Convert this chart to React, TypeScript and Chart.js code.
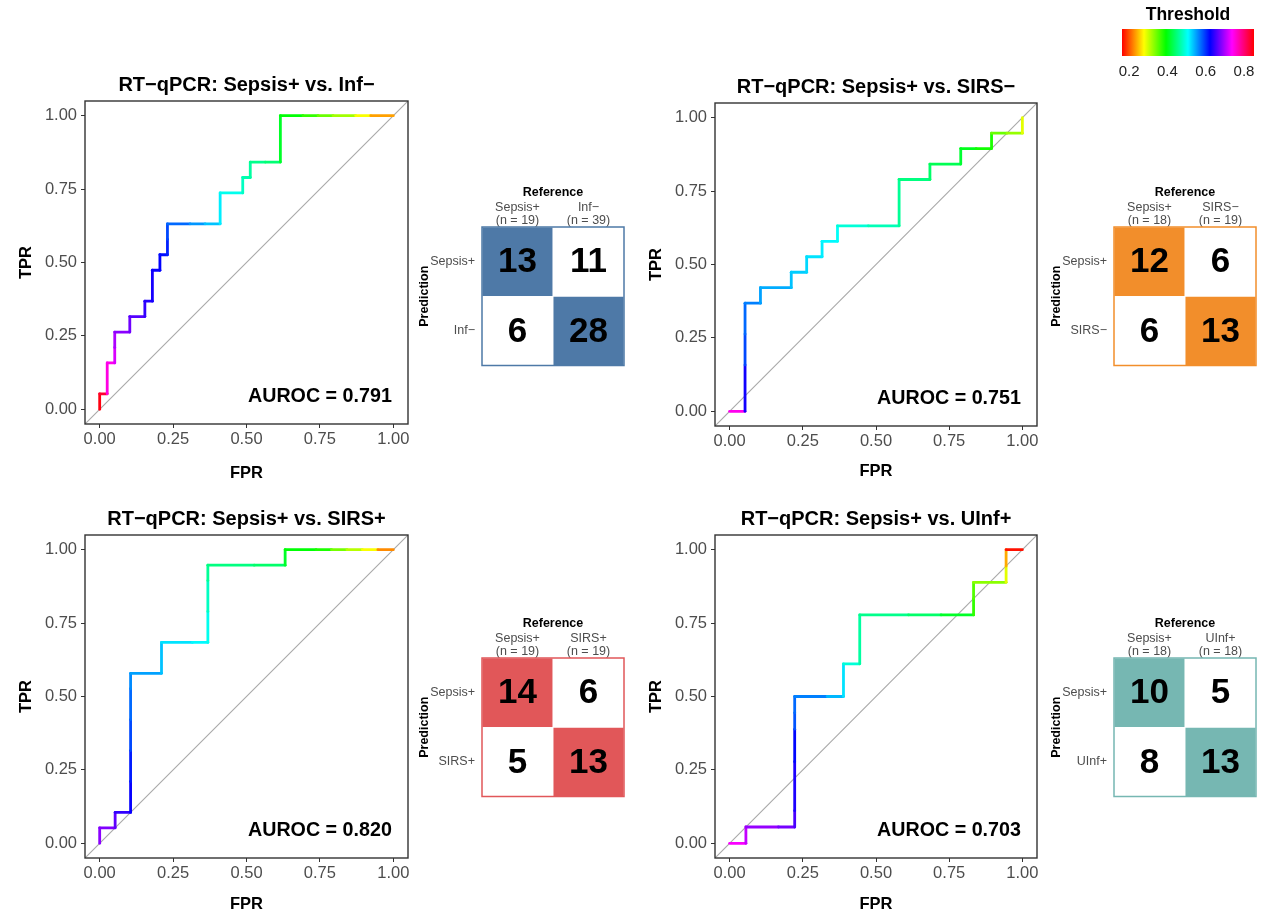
import React, { useEffect, useRef } from "react";
import { Chart, registerables } from "chart.js";

Chart.register(...registerables);

const FONT = "'Liberation Sans', Arial, Helvetica, sans-serif";
Chart.defaults.font.family = FONT;

// ---------- shared scales ----------
const T_MIN = 0.163;
const T_MAX = 0.852;
const LEGEND_TICKS = [0.2, 0.4, 0.6, 0.8];
const AXIS_TICKS = [0, 0.25, 0.5, 0.75, 1];

// ---------- Panel 1: Sepsis+ vs. Inf- ----------
const p1Title = "RT−qPCR: Sepsis+ vs. Inf−";
const p1Auroc = "0.791";
const p1NegN = 39;
const p1PosN = 19;
const p1FP = [0, 0, 1, 1, 2, 2, 2, 4, 4, 6, 6, 7, 7, 8, 8, 9, 9, 9, 12, 14, 16, 16, 19, 19, 20, 20, 22, 24, 24, 27, 29, 31, 34, 36, 39];
const p1TP = [0, 1, 1, 3, 3, 4, 5, 5, 6, 6, 7, 7, 9, 9, 10, 10, 11, 12, 12, 12, 12, 14, 14, 15, 15, 16, 16, 16, 19, 19, 19, 19, 19, 19, 19];
const p1Thr = [0.845, 0.83, 0.75, 0.745, 0.72, 0.7, 0.685, 0.672, 0.66, 0.645, 0.638, 0.632, 0.627, 0.622, 0.617, 0.608, 0.59, 0.575, 0.555, 0.535, 0.515, 0.5, 0.48, 0.472, 0.465, 0.455, 0.445, 0.41, 0.395, 0.37, 0.345, 0.32, 0.28, 0.235, 0.2];
const p1RefLabels = [["Sepsis+", "(n = 19)"], ["Inf−", "(n = 39)"]];
const p1PredLabels = ["Sepsis+", "Inf−"];
const p1Counts = [[13, 11], [6, 28]];
const p1Fill = "#4E79A7";

// ---------- Panel 2: Sepsis+ vs. SIRS- ----------
const p2Title = "RT−qPCR: Sepsis+ vs. SIRS−";
const p2Auroc = "0.751";
const p2NegN = 19;
const p2PosN = 19;
const p2FP = [0, 1, 1, 1, 1, 2, 2, 4, 4, 5, 5, 6, 6, 7, 7, 9, 11, 11, 13, 13, 15, 15, 16, 17, 17, 18, 19, 19];
const p2TP = [0, 0, 3, 5, 7, 7, 8, 8, 9, 9, 10, 10, 11, 11, 12, 12, 12, 15, 15, 16, 16, 17, 17, 17, 18, 18, 18, 19];
const p2Thr = [0.745, 0.63, 0.59, 0.575, 0.565, 0.55, 0.545, 0.535, 0.53, 0.525, 0.52, 0.515, 0.51, 0.505, 0.49, 0.475, 0.46, 0.45, 0.44, 0.43, 0.415, 0.405, 0.385, 0.38, 0.345, 0.325, 0.29, 0.28];
const p2RefLabels = [["Sepsis+", "(n = 18)"], ["SIRS−", "(n = 19)"]];
const p2PredLabels = ["Sepsis+", "SIRS−"];
const p2Counts = [[12, 6], [6, 13]];
const p2Fill = "#F28E2B";

// ---------- Panel 3: Sepsis+ vs. SIRS+ ----------
const p3Title = "RT−qPCR: Sepsis+ vs. SIRS+";
const p3Auroc = "0.820";
const p3NegN = 19;
const p3PosN = 19;
const p3FP = [0, 0, 1, 1, 2, 2, 2, 2, 2, 2, 4, 4, 6, 7, 7, 7, 7, 10, 12, 12, 14, 15, 16, 17, 18, 19];
const p3TP = [0, 1, 1, 2, 2, 4, 6, 8, 10, 11, 11, 13, 13, 13, 15, 17, 18, 18, 18, 19, 19, 19, 19, 19, 19, 19];
const p3Thr = [0.685, 0.68, 0.665, 0.645, 0.625, 0.61, 0.59, 0.575, 0.56, 0.55, 0.535, 0.52, 0.51, 0.5, 0.48, 0.46, 0.45, 0.44, 0.41, 0.395, 0.38, 0.34, 0.31, 0.28, 0.225, 0.2];
const p3RefLabels = [["Sepsis+", "(n = 19)"], ["SIRS+", "(n = 19)"]];
const p3PredLabels = ["Sepsis+", "SIRS+"];
const p3Counts = [[14, 6], [5, 13]];
const p3Fill = "#E15759";

// ---------- Panel 4: Sepsis+ vs. UInf+ ----------
const p4Title = "RT−qPCR: Sepsis+ vs. UInf+";
const p4Auroc = "0.703";
const p4NegN = 18;
const p4PosN = 18;
const p4FP = [0, 1, 1, 3, 4, 4, 4, 4, 4, 4, 6, 7, 7, 8, 8, 11, 13, 15, 15, 15, 17, 17, 17, 18];
const p4TP = [0, 0, 1, 1, 1, 2, 5, 7, 8, 9, 9, 9, 11, 11, 14, 14, 14, 14, 15, 16, 16, 17, 18, 18];
const p4Thr = [0.735, 0.71, 0.69, 0.675, 0.655, 0.635, 0.62, 0.585, 0.575, 0.565, 0.54, 0.52, 0.49, 0.465, 0.455, 0.44, 0.41, 0.37, 0.355, 0.33, 0.29, 0.24, 0.17, 0.16];
const p4RefLabels = [["Sepsis+", "(n = 18)"], ["UInf+", "(n = 18)"]];
const p4PredLabels = ["Sepsis+", "UInf+"];
const p4Counts = [[10, 5], [8, 13]];
const p4Fill = "#76B7B2";

// ---------- helpers ----------
function thrColor(t: number): string {
  let f = (t - T_MIN) / (T_MAX - T_MIN);
  f = Math.min(1, Math.max(0, f));
  return `hsl(${(f * 360).toFixed(1)}, 100%, 50%)`;
}

const rocDecor = {
  id: "rocDecor",
  afterDraw(chart: any, _args: any, opts: any) {
    const { ctx, chartArea: a, scales } = chart;
    ctx.save();
    ctx.strokeStyle = "#333333";
    ctx.lineWidth = 1.4;
    ctx.strokeRect(a.left, a.top, a.right - a.left, a.bottom - a.top);
    ctx.fillStyle = "#000";
    ctx.textAlign = "center";
    ctx.textBaseline = "middle";
    ctx.font = `bold 20px ${FONT}`;
    ctx.fillText(opts.title, (a.left + a.right) / 2, a.top - 16);
    ctx.textAlign = "right";
    ctx.font = `bold 19.7px ${FONT}`;
    ctx.fillText(`AUROC = ${opts.auroc}`, scales.x.getPixelForValue(0.995), scales.y.getPixelForValue(0.045));
    ctx.restore();
  },
};

const matrixDecor = {
  id: "matrixDecor",
  afterDatasetsDraw(chart: any, _args: any, opts: any) {
    const { ctx, chartArea: a } = chart;
    ctx.save();
    ctx.fillStyle = "#000";
    ctx.textAlign = "center";
    ctx.textBaseline = "middle";
    ctx.font = `bold 35px ${FONT}`;
    chart.data.datasets.forEach((ds: any, di: number) => {
      const meta = chart.getDatasetMeta(di);
      meta.data.forEach((bar: any, j: number) => {
        const p = bar.getProps(["x", "y", "base"], true);
        ctx.fillText(String(ds.counts[j]), p.x, (p.y + p.base) / 2 + 1);
      });
    });
    ctx.strokeStyle = opts.color;
    ctx.lineWidth = 1.5;
    ctx.strokeRect(a.left, a.top, a.right - a.left, a.bottom - a.top);
    ctx.restore();
  },
};

const legendDecor = {
  id: "legendDecor",
  beforeDatasetsDraw(chart: any) {
    const { ctx, chartArea: a } = chart;
    ctx.save();
    const g = ctx.createLinearGradient(a.left, 0, a.right, 0);
    for (let i = 0; i <= 60; i++) {
      const f = i / 60;
      g.addColorStop(f, thrColor(T_MIN + f * (T_MAX - T_MIN)));
    }
    ctx.fillStyle = g;
    ctx.fillRect(a.left, a.top, a.right - a.left, a.bottom - a.top);
    ctx.fillStyle = "#000";
    ctx.textAlign = "center";
    ctx.textBaseline = "middle";
    ctx.font = `bold 17.5px ${FONT}`;
    ctx.fillText("Threshold", (a.left + a.right) / 2, 15);
    ctx.restore();
  },
};

function ChartBox(props: { left: number; top: number; width: number; height: number; make: (c: HTMLCanvasElement) => Chart }) {
  const ref = useRef<HTMLCanvasElement>(null);
  useEffect(() => {
    const c = props.make(ref.current as HTMLCanvasElement);
    return () => c.destroy();
  }, []);
  return (
    <canvas
      ref={ref}
      width={props.width}
      height={props.height}
      style={{ position: "absolute", left: props.left, top: props.top, width: props.width, height: props.height }}
    />
  );
}

type RocSpec = {
  title: string; auroc: string; negN: number; posN: number;
  fp: number[]; tp: number[]; thr: number[];
};

function makeRoc(spec: RocSpec, rightPad: number, fprPad: number) {
  return (canvas: HTMLCanvasElement) => {
    const pts = spec.fp.map((v, i) => ({ x: v / spec.negN, y: spec.tp[i] / spec.posN, t: spec.thr[i] }));
    const H = 430;
    return new Chart(canvas, {
      type: "scatter",
      data: {
        datasets: [
          {
            data: pts,
            showLine: true,
            borderWidth: 2.8,
            pointRadius: 0,
            borderCapStyle: "round",
            borderJoinStyle: "round",
            borderColor: thrColor(pts[0].t),
            segment: { borderColor: (ctx: any) => thrColor(pts[ctx.p0DataIndex].t) },
          } as any,
          {
            data: [{ x: -0.05, y: -0.05 }, { x: 1.05, y: 1.05 }],
            showLine: true,
            borderWidth: 1.1,
            borderColor: "#A8A8A8",
            pointRadius: 0,
          },
        ],
      },
      options: {
        responsive: false,
        animation: false,
        devicePixelRatio: 1,
        layout: { padding: { top: 46, right: rightPad, left: 0, bottom: 0 } },
        plugins: { legend: { display: false }, tooltip: { enabled: false }, rocDecor: { title: spec.title, auroc: spec.auroc } } as any,
        scales: {
          x: {
            type: "linear", min: -0.05, max: 1.05,
            afterBuildTicks: (s: any) => { s.ticks = AXIS_TICKS.map((v) => ({ value: v })); },
            afterFit: (s: any) => { s.height = H - 369; },
            ticks: { callback: (v: any) => Number(v).toFixed(2), font: { size: 16.5 }, color: "#4D4D4D", padding: 2, maxRotation: 0, autoSkip: false },
            grid: { display: true, drawOnChartArea: false, drawTicks: true, tickLength: 4, tickColor: "#333333", color: "#333333" },
            border: { display: false },
            title: { display: true, text: "FPR", font: { size: 16.5, weight: "bold" }, color: "#000", padding: { top: 0, bottom: fprPad } },
          },
          y: {
            type: "linear", min: -0.05, max: 1.05,
            afterBuildTicks: (s: any) => { s.ticks = AXIS_TICKS.map((v) => ({ value: v })); },
            afterFit: (s: any) => { s.width = 85; },
            ticks: { callback: (v: any) => Number(v).toFixed(2), font: { size: 16.5 }, color: "#4D4D4D", padding: 4, autoSkip: false },
            grid: { display: true, drawOnChartArea: false, drawTicks: true, tickLength: 4, tickColor: "#333333", color: "#333333" },
            border: { display: false },
            title: { display: true, text: "TPR", font: { size: 16.5, weight: "bold" }, color: "#000", padding: { top: 17, bottom: 0 } },
          },
        },
      } as any,
      plugins: [rocDecor],
    });
  };
}

type MatSpec = { refLabels: string[][]; predLabels: string[]; counts: number[][]; fill: string };

function makeMatrix(spec: MatSpec) {
  return (canvas: HTMLCanvasElement) => {
    const nRows = spec.predLabels.length;
    // stack from bottom row to top row
    const rowsBottomUp = spec.predLabels.map((_, r) => nRows - 1 - r);
    const datasets = rowsBottomUp.map((r) => ({
      data: spec.refLabels.map(() => 1),
      counts: spec.counts[r],
      backgroundColor: spec.refLabels.map((_, c) => (c === r ? spec.fill : "#FFFFFF")),
      borderColor: "rgba(255,255,255,0.85)",
      borderWidth: 0.8,
      barPercentage: 1,
      categoryPercentage: 1,
    }));
    return new Chart(canvas, {
      type: "bar",
      data: { labels: spec.refLabels as any, datasets: datasets as any },
      options: {
        responsive: false,
        animation: false,
        devicePixelRatio: 1,
        layout: { padding: { top: 0, right: 16, left: 0, bottom: 11 } },
        plugins: { legend: { display: false }, tooltip: { enabled: false }, matrixDecor: { color: spec.fill } } as any,
        scales: {
          x: {
            type: "category", position: "top", stacked: true,
            afterFit: (s: any) => { s.height = 52; },
            ticks: { font: { size: 12.5, lineHeight: 1.064 }, color: "#4D4D4D", padding: 0, maxRotation: 0, autoSkip: false },
            grid: { display: false, drawTicks: false },
            border: { display: false },
            title: { display: true, text: "Reference", font: { size: 12.5, weight: "bold", lineHeight: 1.2 }, color: "#000", padding: { top: 10.5, bottom: 0 } },
          },
          y: {
            type: "linear", stacked: true, min: 0, max: nRows,
            afterBuildTicks: (s: any) => { s.ticks = spec.predLabels.map((_, r) => ({ value: nRows - r - 0.5 })); },
            afterFit: (s: any) => { s.width = 72; },
            ticks: { callback: (v: any) => spec.predLabels[nRows - 1 - Math.floor(Number(v))], font: { size: 12.5 }, color: "#4D4D4D", padding: 7, autoSkip: false },
            grid: { display: false, drawTicks: false },
            border: { display: false },
            title: { display: true, text: "Prediction", font: { size: 12.5, weight: "bold", lineHeight: 1.2 }, color: "#000", padding: { top: 7.5, bottom: 0 } },
          },
        },
      } as any,
      plugins: [matrixDecor],
    });
  };
}

function makeLegend() {
  return (canvas: HTMLCanvasElement) =>
    new Chart(canvas, {
      type: "scatter",
      data: { datasets: [] },
      options: {
        responsive: false,
        animation: false,
        devicePixelRatio: 1,
        layout: { padding: { top: 29, right: 11, left: 22, bottom: 0 } },
        plugins: { legend: { display: false }, tooltip: { enabled: false } },
        scales: {
          x: {
            type: "linear", min: T_MIN, max: T_MAX,
            afterBuildTicks: (s: any) => { s.ticks = LEGEND_TICKS.map((v) => ({ value: v })); },
            afterFit: (s: any) => { s.height = 29; },
            ticks: { callback: (v: any) => Number(v).toFixed(1), font: { size: 15 }, color: "#222", padding: 7, maxRotation: 0, autoSkip: false },
            grid: { display: false, drawTicks: false },
            border: { display: false },
          },
          y: { display: false, min: 0, max: 1 },
        },
      } as any,
      plugins: [legendDecor],
    });
}

const roc1: RocSpec = { title: p1Title, auroc: p1Auroc, negN: p1NegN, posN: p1PosN, fp: p1FP, tp: p1TP, thr: p1Thr };
const roc2: RocSpec = { title: p2Title, auroc: p2Auroc, negN: p2NegN, posN: p2PosN, fp: p2FP, tp: p2TP, thr: p2Thr };
const roc3: RocSpec = { title: p3Title, auroc: p3Auroc, negN: p3NegN, posN: p3PosN, fp: p3FP, tp: p3TP, thr: p3Thr };
const roc4: RocSpec = { title: p4Title, auroc: p4Auroc, negN: p4NegN, posN: p4PosN, fp: p4FP, tp: p4TP, thr: p4Thr };

const mat1: MatSpec = { refLabels: p1RefLabels, predLabels: p1PredLabels, counts: p1Counts, fill: p1Fill };
const mat2: MatSpec = { refLabels: p2RefLabels, predLabels: p2PredLabels, counts: p2Counts, fill: p2Fill };
const mat3: MatSpec = { refLabels: p3RefLabels, predLabels: p3PredLabels, counts: p3Counts, fill: p3Fill };
const mat4: MatSpec = { refLabels: p4RefLabels, predLabels: p4PredLabels, counts: p4Counts, fill: p4Fill };

export default function App() {
  return (
    <div style={{ position: "absolute", left: 0, top: 0, width: 1265, height: 915, overflow: "hidden", background: "#FFFFFF" }}>
      <ChartBox left={0} top={55} width={420} height={430} make={makeRoc(roc1, 12, 2)} />
      <ChartBox left={630} top={57} width={420} height={430} make={makeRoc(roc2, 13, 6)} />
      <ChartBox left={0} top={489} width={420} height={430} make={makeRoc(roc3, 12, 5)} />
      <ChartBox left={630} top={489} width={420} height={430} make={makeRoc(roc4, 13, 5)} />
      <ChartBox left={410} top={175} width={230} height={205} make={makeMatrix(mat1)} />
      <ChartBox left={1042} top={175} width={230} height={205} make={makeMatrix(mat2)} />
      <ChartBox left={410} top={606} width={230} height={205} make={makeMatrix(mat3)} />
      <ChartBox left={1042} top={606} width={230} height={205} make={makeMatrix(mat4)} />
      <ChartBox left={1100} top={0} width={165} height={85} make={makeLegend()} />
    </div>
  );
}
